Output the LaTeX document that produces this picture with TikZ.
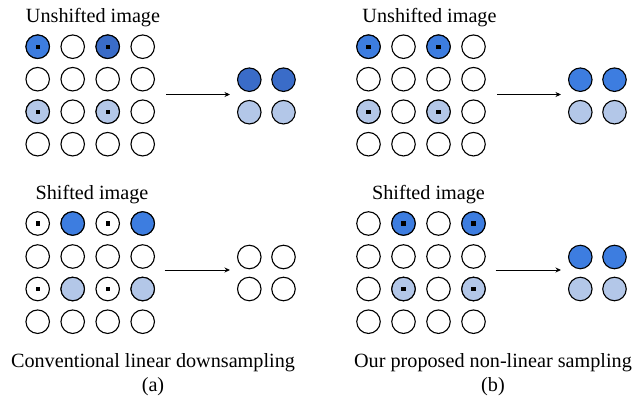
\documentclass[tikz,border=0pt]{standalone}
\usepackage{fontspec}
\setmainfont{Liberation Serif}
\usetikzlibrary{arrows.meta}
\definecolor{bbright}{HTML}{3D7DE0}
\definecolor{bdark}{HTML}{3A6CC8}
\definecolor{blight}{HTML}{B3C7E8}
\tikzset{
  px/.style={circle, draw=black, line width=1.1pt, minimum size=23.5pt, inner sep=0pt, fill=white},
  bright/.style={fill=bbright},
  dark/.style={fill=bdark},
  light/.style={fill=blight},
  sq/.style={rectangle, fill=black, minimum size=4.2pt, inner sep=0pt},
  lbl/.style={font=\fontsize{20.2pt}{23pt}\selectfont, anchor=base, inner sep=0pt},
  conn/.style={line width=0.9pt, -{Stealth[length=5.5pt,width=5pt]}}
}
\begin{document}
\begin{tikzpicture}[x=1pt,y=-1pt]
\useasboundingbox (0,0) rectangle (640,396);
% ---------- panel (a) ----------
\node[lbl] (ta1) at (93,22.7) {Unshifted image};
\node[lbl] (ta2) at (92,199.3) {Shifted image};
\node[lbl] (ca) at (153,367.5) {Conventional linear downsampling};
\node[lbl] (la) at (153,391.5) {(a)};
% unshifted grid (a)
\foreach \i/\y in {1/46.7,2/79.2,3/111.7,4/144.2}{
  \foreach \j/\x in {1/37.7,2/72.7,3/107.7,4/142.7}{
    \node[px] (au-\i-\j) at (\x,\y) {};
  }
}
\node[px,bright] at (au-1-1) {};
\node[px,dark] at (au-1-3) {};
\node[px,light] at (au-3-1) {};
\node[px,light] at (au-3-3) {};
\foreach \c in {au-1-1,au-1-3,au-3-1,au-3-3}{\node[sq] at (\c) {};}
% output (a) top
\node[px,dark] (ao-1-1) at (249.3,79.7) {};
\node[px,dark] (ao-1-2) at (283.5,79.7) {};
\node[px,light] (ao-2-1) at (249.3,112.2) {};
\node[px,light] (ao-2-2) at (283.5,112.2) {};
\coordinate (aa1s) at (166,94.5);
\coordinate (aa1e) at (230,94.5);
\draw[conn] (aa1s) -- (aa1e);
% shifted grid (a)
\foreach \i/\y in {1/223.5,2/256.5,3/289,4/321.7}{
  \foreach \j/\x in {1/37.7,2/72.7,3/107.7,4/142.7}{
    \node[px] (as-\i-\j) at (\x,\y) {};
  }
}
\node[px,bright] at (as-1-2) {};
\node[px,bright] at (as-1-4) {};
\node[px,light] at (as-3-2) {};
\node[px,light] at (as-3-4) {};
\foreach \c in {as-1-1,as-1-3,as-3-1,as-3-3}{\node[sq] at (\c) {};}
% output (a) bottom
\node[px] (ap-1-1) at (249.3,257) {};
\node[px] (ap-1-2) at (283.5,257) {};
\node[px] (ap-2-1) at (249.3,289) {};
\node[px] (ap-2-2) at (283.5,289) {};
\coordinate (aa2s) at (164.5,270);
\coordinate (aa2e) at (230,270);
\draw[conn] (aa2s) -- (aa2e);
% ---------- panel (b) ----------
\node[lbl] (tb1) at (429.5,22.7) {Unshifted image};
\node[lbl] (tb2) at (428.5,199.3) {Shifted image};
\node[lbl] (cb) at (493,367.5) {Our proposed non-linear sampling};
\node[lbl] (lb) at (493,391.5) {(b)};
\foreach \i/\y in {1/46.7,2/79.2,3/111.7,4/144.2}{
  \foreach \j/\x in {1/368.5,2/403.5,3/438.5,4/473.5}{
    \node[px] (bu-\i-\j) at (\x,\y) {};
  }
}
\node[px,bright] at (bu-1-1) {};
\node[px,bright] at (bu-1-3) {};
\node[px,light] at (bu-3-1) {};
\node[px,light] at (bu-3-3) {};
\foreach \c in {bu-1-1,bu-1-3,bu-3-1,bu-3-3}{\node[sq] at (\c) {};}
\node[px,bright] (bo-1-1) at (580.3,79.7) {};
\node[px,bright] (bo-1-2) at (614.5,79.7) {};
\node[px,light] (bo-2-1) at (580.3,112.2) {};
\node[px,light] (bo-2-2) at (614.5,112.2) {};
\coordinate (ba1s) at (497,94.5);
\coordinate (ba1e) at (561,94.5);
\draw[conn] (ba1s) -- (ba1e);
\foreach \i/\y in {1/223.5,2/256.5,3/289,4/321.7}{
  \foreach \j/\x in {1/368.5,2/403.5,3/438.5,4/473.5}{
    \node[px] (bs-\i-\j) at (\x,\y) {};
  }
}
\node[px,bright] at (bs-1-2) {};
\node[px,bright] at (bs-1-4) {};
\node[px,light] at (bs-3-2) {};
\node[px,light] at (bs-3-4) {};
\foreach \c in {bs-1-2,bs-1-4,bs-3-2,bs-3-4}{\node[sq] at (\c) {};}
\node[px,bright] (bp-1-1) at (580.3,257) {};
\node[px,bright] (bp-1-2) at (614.5,257) {};
\node[px,light] (bp-2-1) at (580.3,289) {};
\node[px,light] (bp-2-2) at (614.5,289) {};
\coordinate (ba2s) at (495.5,270);
\coordinate (ba2e) at (561,270);
\draw[conn] (ba2s) -- (ba2e);
\end{tikzpicture}
\end{document}
